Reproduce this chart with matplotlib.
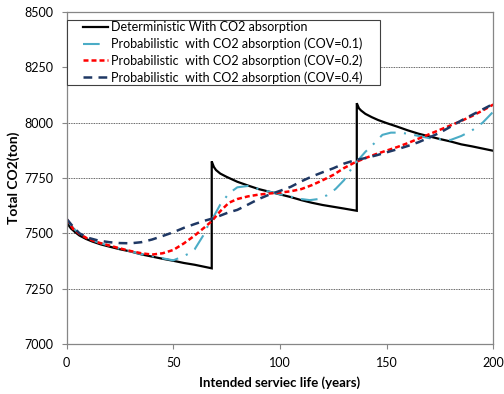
import numpy as np
import matplotlib
matplotlib.use("Agg")
import matplotlib.pyplot as plt
from matplotlib.patches import Rectangle
from matplotlib.transforms import IdentityTransform

plt.rcParams['font.family'] = ['Lato', 'DejaVu Sans']

# deterministic case: vertical jumps at each rebuild (repeated year)
det_years = [0, 1, 2, 4, 6, 9, 12, 16, 20, 25, 30, 35, 40, 45, 50, 55, 60, 65, 68,
             68, 69, 70, 72, 75, 80, 85, 90, 95, 100, 105, 110, 115, 120, 125, 130, 136,
             136, 137, 138, 140, 143, 146, 150, 155, 160, 165, 170, 175, 180, 185, 190, 195, 200]
det_co2 = [7565, 7535, 7522, 7505, 7490, 7475, 7463, 7450, 7440, 7428, 7418, 7405, 7395, 7385, 7376, 7366, 7358, 7348, 7342,
           7825, 7800, 7786, 7770, 7755, 7733, 7716, 7700, 7688, 7676, 7664, 7650, 7638, 7628, 7620, 7612, 7602,
           8088, 8065, 8055, 8040, 8025, 8012, 7998, 7982, 7965, 7950, 7938, 7926, 7915, 7902, 7893, 7883, 7873]

cov1_years = [0, 3, 6, 10, 15, 20, 25, 30, 35, 40, 45, 50, 55, 58, 60, 64, 66, 68, 72, 76, 80, 85,
              90, 95, 100, 105, 110, 114, 118, 122, 126, 130, 134, 137, 140, 144, 148, 152, 156,
              160, 165, 170, 175, 180, 185, 190, 195, 200]
cov1_co2 = [7565, 7525, 7497, 7476, 7458, 7444, 7430, 7418, 7406, 7397, 7387, 7378, 7398, 7412, 7428, 7490, 7530, 7560, 7630, 7680, 7708, 7714,
            7700, 7688, 7677, 7666, 7655, 7650, 7655, 7672, 7700, 7740, 7800, 7835, 7868, 7905, 7945, 7955, 7955,
            7950, 7940, 7930, 7925, 7922, 7940, 7965, 8000, 8050]

cov2_years = [0, 3, 6, 10, 15, 20, 25, 30, 35, 40, 45, 50, 55, 60, 65, 68, 72, 76, 80, 85, 90, 95, 100,
              105, 110, 115, 120, 125, 130, 135, 140, 145, 150, 155, 160, 165, 170, 175, 180, 185, 190, 195, 200]
cov2_co2 = [7565, 7520, 7497, 7475, 7458, 7445, 7432, 7420, 7410, 7404, 7410, 7425, 7455, 7490, 7530, 7555, 7600, 7638, 7655, 7667, 7675, 7680, 7684,
            7690, 7700, 7718, 7740, 7764, 7795, 7820, 7840, 7858, 7874, 7890, 7908, 7928, 7948, 7968, 7988, 8008, 8030, 8055, 8082]

cov4_years = [0, 3, 6, 10, 15, 20, 25, 30, 35, 40, 45, 50, 55, 60, 65, 68, 72, 76, 80, 85, 90, 95, 100,
              105, 110, 115, 120, 125, 130, 135, 140, 145, 150, 155, 160, 165, 170, 175, 180, 185, 190, 195, 200]
cov4_co2 = [7565, 7530, 7500, 7480, 7467, 7460, 7456, 7455, 7460, 7472, 7488, 7505, 7525, 7542, 7558, 7566, 7580, 7595, 7606, 7630, 7655, 7675, 7692,
            7710, 7735, 7757, 7776, 7794, 7815, 7830, 7840, 7852, 7866, 7880, 7895, 7912, 7933, 7955, 7982, 8010, 8035, 8060, 8085]

W, H = 504, 394
fig = plt.figure(figsize=(W / 100, H / 100), dpi=100)
ax = fig.add_axes([0.1323, 0.1269, 0.8465, 0.8426])

ax.plot(det_years, det_co2, color='black', lw=1.6, solid_joinstyle='miter',
        label='Deterministic With CO2 absorption')
ax.plot(cov1_years, cov1_co2, color='#4BACC6', lw=1.5, linestyle=(0, (8, 4, 1, 4)),
        label='Probabilistic  with CO2 absorption (COV=0.1)')
ax.plot(cov2_years, cov2_co2, color='#FF0000', lw=1.8, linestyle=(0, (2, 1.2)),
        label='Probabilistic  with CO2 absorption (COV=0.2)')
ax.plot(cov4_years, cov4_co2, color='#1F3864', lw=1.8, linestyle=(0, (3.5, 2.5)),
        label='Probabilistic  with CO2 absorption (COV=0.4)')

ax.set_xlim(0, 200)
ax.set_ylim(7000, 8500)
ax.set_xticks([0, 50, 100, 150, 200])
ax.set_yticks(np.arange(7000, 8501, 250))
ax.yaxis.grid(True, color='#303030', lw=0.6, linestyle=(0, (1, 1)))
ax.set_axisbelow(True)
for s in ax.spines.values():
    s.set_color('#868686')
    s.set_linewidth(0.9)
ax.tick_params(colors='#868686', labelcolor='black', labelsize=9, length=3.6, width=0.8, pad=6)

ax.set_xlabel('Intended serviec life (years)', fontsize=9.5, fontweight='bold', labelpad=5)
ax.set_ylabel('Total CO2(ton)', fontsize=10, fontweight='bold', labelpad=3)

# legend without its own frame; box drawn around it with Excel-like side padding
leg = ax.legend(loc='upper left', bbox_to_anchor=(83 / W, 1 - 21 / H),
                bbox_transform=fig.transFigure, borderaxespad=0, borderpad=0,
                fontsize=9, frameon=False, handlelength=2.0,
                handletextpad=0.25, labelspacing=0.35)
fig.canvas.draw()
bb = leg.get_window_extent()
box = Rectangle((bb.x0 - 16.3, bb.y0 - 1.5), bb.width + 16.3 + 17, bb.height + 3,
                transform=IdentityTransform(), fill=True, facecolor='white',
                edgecolor='#404040', lw=0.8, zorder=4, clip_on=False)
ax.add_patch(box)
leg.set_zorder(5)

fig.savefig('out.png', dpi=100)
